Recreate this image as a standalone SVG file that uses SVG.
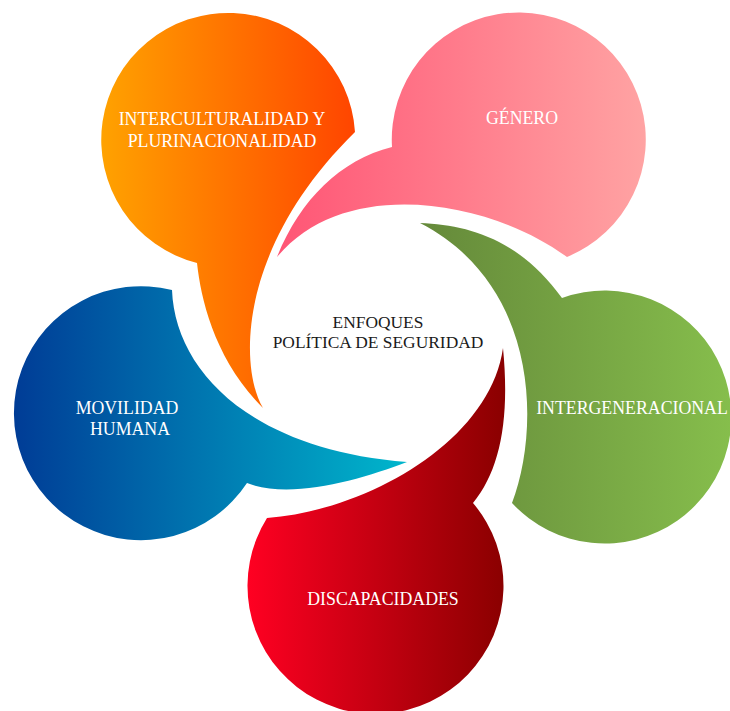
<svg xmlns="http://www.w3.org/2000/svg" width="730" height="711" viewBox="0 0 730 711">
<defs>
<linearGradient id="gOrange" x1="0" y1="0" x2="1" y2="0"><stop offset="0" stop-color="#FFA200"/><stop offset="1" stop-color="#FF4500"/></linearGradient>
<linearGradient id="gPink" x1="0" y1="0" x2="1" y2="0"><stop offset="0" stop-color="#FF5575"/><stop offset="1" stop-color="#FFA3A3"/></linearGradient>
<linearGradient id="gGreen" x1="0" y1="0" x2="1" y2="0"><stop offset="0" stop-color="#65893A"/><stop offset="1" stop-color="#86BE4C"/></linearGradient>
<linearGradient id="gBlue" x1="0" y1="0" x2="1" y2="0"><stop offset="0" stop-color="#003C96"/><stop offset="1" stop-color="#00B6CC"/></linearGradient>
<linearGradient id="gRed" x1="0" y1="0" x2="1" y2="0"><stop offset="0" stop-color="#FF0022"/><stop offset="1" stop-color="#8A0000"/></linearGradient>
</defs>
<style>
.lbl{font-family:"Liberation Serif","Times New Roman",serif;font-size:17.8px;fill:#FFFFFF;text-anchor:middle}
.ctr{font-family:"Liberation Serif","Times New Roman",serif;font-size:17.4px;fill:#1a1a1a;text-anchor:middle}
</style>
<rect width="730" height="711" fill="#FFFFFF"/>
<g id="interculturalidad">
<path fill="url(#gOrange)" d="M355,132 A127,127 0 1 0 197,263 C201,300 215,360 263,408 C240,370 235,250 355,132 Z"/>
<text class="lbl" x="222" y="125">INTERCULTURALIDAD Y</text>
<text class="lbl" x="222" y="147">PLURINACIONALIDAD</text>
</g>
<g id="genero">
<path fill="url(#gPink)" d="M392,147 A127,127 0 1 1 567,257 C490,200 345,175 277,257 C300,200 340,160 392,147 Z"/>
<text class="lbl" x="522" y="124">GÉNERO</text>
</g>
<g id="intergeneracional">
<path fill="url(#gGreen)" d="M562,298 A126.5,126.5 0 1 1 512,503 C540,430 540,285 420,223 C470,225 520,240 562,298 Z"/>
<text class="lbl" x="632" y="414">INTERGENERACIONAL</text>
</g>
<g id="movilidad">
<path fill="url(#gBlue)" d="M247,483 A127,127 0 1 1 172,290 C175,370 250,450 407,462 C360,480 290,500 247,483 Z"/>
<text class="lbl" x="127" y="414">MOVILIDAD</text>
<text class="lbl" x="130" y="435">HUMANA</text>
</g>
<g id="discapacidades">
<path fill="url(#gRed)" d="M267,518 A128,128 0 1 0 473,503 C500,470 510,420 503,348 C490,440 370,510 267,518 Z"/>
<text class="lbl" x="383" y="605">DISCAPACIDADES</text>
</g>
<g id="enfoques">
<text class="ctr" x="378" y="328">ENFOQUES</text>
<text class="ctr" x="378" y="348">POLÍTICA DE SEGURIDAD</text>
</g>
</svg>
